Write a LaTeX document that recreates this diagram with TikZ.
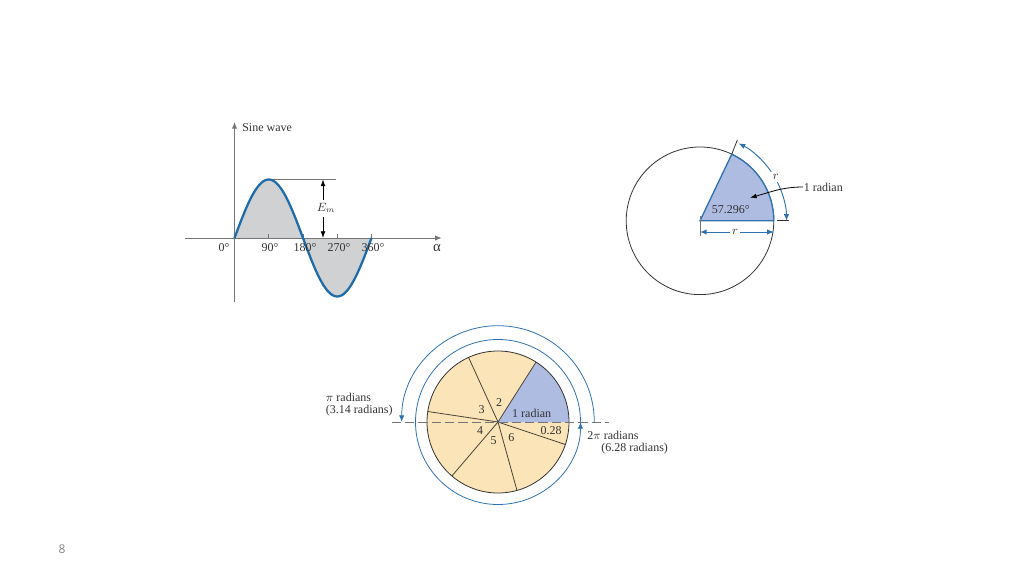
\documentclass[tikz,border=0pt]{standalone}
\usepackage{fontspec}
\setmainfont{Liberation Serif}
\newfontfamily\pagefont{Open Sans}
\usetikzlibrary{arrows.meta}
\definecolor{waveblue}{HTML}{1F6CA8}
\definecolor{arcblue}{HTML}{2F72B0}
\definecolor{wavegray}{HTML}{CFD1D3}
\definecolor{axisgray}{HTML}{757575}
\definecolor{sectorblue}{HTML}{AEBCE2}
\definecolor{pieyellow}{HTML}{FAE4B8}
\definecolor{inkgray}{HTML}{333333}
\tikzset{
    every node/.style={font=\fontsize{9}{11}\selectfont, text=inkgray, inner sep=0pt},
    axisline/.style={draw=axisgray, line width=0.75pt},
    wave/.style={draw=waveblue, line width=1.7pt},
    dimline/.style={draw=arcblue, line width=0.7pt, -{Latex[length=5pt,width=4pt]}},
    blackarrow/.style={draw=black, line width=0.6pt, -{Latex[length=5pt,width=3.6pt]}},
    rim/.style={draw=inkgray, line width=0.6pt},
    spoke/.style={draw=black!70!pieyellow, line width=0.6pt},
}
\begin{document}
\begin{tikzpicture}[x=0.75pt, y=0.75pt]
            \useasboundingbox (0, 0) rectangle (1024, 576);

            \coordinate (S) at (234.5, 338);
            \coordinate (Stop) at (234.5, 454);
            \coordinate (Sbottom) at (234.5, 274);
            \coordinate (Sleft) at (185, 338);
            \coordinate (Sright) at (441.7, 338);
            \coordinate (Pa) at (272, 396.5);
            \coordinate (Pb) at (335.7, 396.5);
            \coordinate (Ea) at (323, 396.5);
            \coordinate (Eb) at (323, 376);
            \coordinate (Ec) at (323, 359);
            \coordinate (Ed) at (323, 338);

            \fill[wavegray] plot[domain=0:360, samples=73] ({234.5+\x/360*137}, {338+58.5*sin(\x)}) -- cycle;
            \draw[axisline, -{Latex[length=5pt,width=4pt]}] (Sbottom) -- (Stop);
            \draw[axisline, -{Latex[length=5pt,width=4pt]}] (Sleft) -- (Sright);
            \foreach \tickx in {268.75, 303, 337.25, 371.5} {
                \draw[axisline, line width=0.6pt] (\tickx, 338) -- (\tickx, 342);
            }
            \draw[axisline] (Pa) -- (Pb);
            \draw[wave] plot[domain=0:360, samples=73] ({234.5+\x/360*137}, {338+58.5*sin(\x)});
            \draw[blackarrow] (Eb) -- (Ea);
            \draw[blackarrow] (Ec) -- (Ed);

            \node[anchor=west] (sinelabel) at (242, 448) {Sine wave};
            \node (emlabel) at (326, 368) {$E_m$};
            \node (d0) at (224, 328) {0°};
            \node (d90) at (270, 328) {90°};
            \node (d180) at (305, 328) {180°};
            \node (d270) at (339, 328) {270°};
            \node (d360) at (373, 328) {360°};
            \node[font=\fontsize{11}{13}\selectfont] (alpha) at (437, 328) {α};

            \coordinate (O) at (700, 355.2);
            \coordinate (Oright) at (773.8, 355.2);
            \coordinate (Ttop) at (737.3, 436);
            \coordinate (Ta) at (776.7, 355.2);
            \coordinate (Tb) at (789, 355.2);
            \coordinate (Da) at (700, 360);
            \coordinate (Db) at (700, 340);
            \coordinate (Ga) at (700, 344);
            \coordinate (Gb) at (730, 344);
            \coordinate (Gc) at (740, 344);
            \coordinate (Gd) at (773.8, 344);
            \coordinate (La) at (803, 389);
            \coordinate (Lb) at (750, 378.3);

            \draw[rim] (O) circle[radius=73.8];
            \filldraw[fill=sectorblue, draw=arcblue, line width=1pt] (O) -- (Oright) arc[start angle=0, end angle=64.5, radius=73.8] -- cycle;
            \draw[rim] (O) ++(64.5:73.8) -- (Ttop);
            \draw[rim] (Ta) -- (Tb);
            \draw[rim, draw=axisgray] (Da) -- (Db);
            \draw[dimline] (O) ++(34.5:86.5) arc[start angle=34.5, end angle=63.5, radius=86.5];
            \draw[dimline] (O) ++(26.5:86.5) arc[start angle=26.5, end angle=0, radius=86.5];
            \draw[dimline] (Gb) -- (Ga);
            \draw[dimline] (Gc) -- (Gd);
            \draw[blackarrow] (La) to[out=180, in=15] (Lb);

            \node (angle) at (730.7, 366) {57.296°};
            \node (rarc) at (775.7, 399.3) {$r$};
            \node (rbase) at (735, 344) {$r$};
            \node[anchor=west] (radian) at (803.5, 388.5) {1 radian};

            \coordinate (P) at (498, 154);
            \coordinate (Dleft) at (391.7, 154);
            \coordinate (Dright) at (609, 154);

            \fill[pieyellow] (P) circle[radius=71];
            \fill[sectorblue] (P) -- ++(0:71) arc[start angle=0, end angle=57.6, radius=71] -- cycle;
            \foreach \spokeangle in {57.6, 114.5, 171.5, 229.5, 285.5, 341.5} {
                \draw[spoke] (P) -- ++(\spokeangle:71);
            }
            \draw[rim] (P) circle[radius=71];
            \draw[draw=axisgray, line width=0.7pt, dash pattern=on 7pt off 3pt] (Dleft) -- (Dright);
            \draw[dimline, line width=0.6pt] (P) ++(0:96.3) arc[start angle=0, end angle=180, radius=96.3];
            \draw[dimline, line width=0.6pt] (P) ++(0:82.5) arc[start angle=0, end angle=360, radius=82.5];

            \node (two) at (499, 173.7) {2};
            \node (three) at (481.7, 166) {3};
            \node (four) at (480, 145) {4};
            \node (five) at (493.7, 135) {5};
            \node (six) at (511.3, 138.3) {6};
            \node (oneradian) at (531.7, 163) {1 radian};
            \node (rest) at (551, 145) {0.28};
            \node[anchor=west] (pilabel) at (325.7, 179) {$\pi$ radians};
            \node[anchor=west] (pivalue) at (325.7, 165.3) {(3.14 radians)};
            \node[anchor=west] (twopilabel) at (587, 140.3) {2$\pi$ radians};
            \node[anchor=west] (twopivalue) at (601, 127) {(6.28 radians)};

            \node[text=gray, font=\pagefont\fontsize{9}{11}\selectfont] (pagenumber) at (62, 27) {8};
        \end{tikzpicture}
\end{document}
